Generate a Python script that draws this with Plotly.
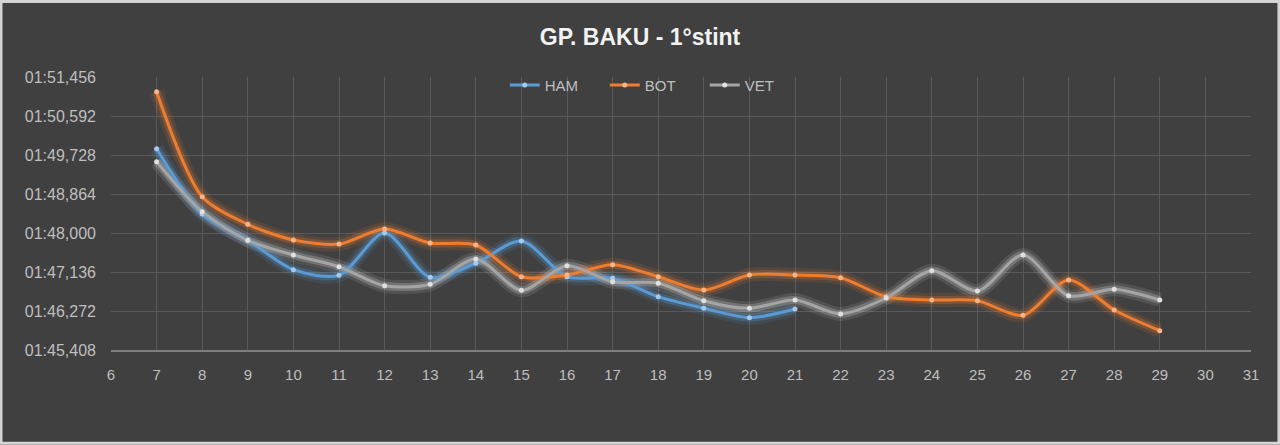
import plotly.graph_objects as go

laps_ham = list(range(7, 22))
laps_all = list(range(7, 30))

# lap times in seconds
ham = [109.868, 108.421, 107.838, 107.187, 107.063, 108.000, 107.019, 107.329,
       107.823, 107.032, 106.996, 106.589, 106.332, 106.124, 106.316]
bot = [111.130, 108.804, 108.193, 107.845, 107.756, 108.089, 107.778, 107.734,
       107.032, 107.070, 107.298, 107.032, 106.737, 107.070, 107.070, 107.010,
       106.589, 106.516, 106.500, 106.177, 106.959, 106.294, 105.836]
vet = [109.580, 108.472, 107.838, 107.513, 107.253, 106.832, 106.863, 107.424,
       106.731, 107.276, 106.921, 106.886, 106.500, 106.332, 106.516, 106.206,
       106.560, 107.165, 106.715, 107.513, 106.611, 106.753, 106.516]

y_tickvals = [105.408, 106.272, 107.136, 108.000, 108.864, 109.728, 110.592, 111.456]
y_ticktext = ['01:45,408', '01:46,272', '01:47,136', '01:48,000',
              '01:48,864', '01:49,728', '01:50,592', '01:51,456']

series = [
    ('HAM', laps_ham, ham, '#5b9bd5', (91, 155, 213), '#a6c9ea'),
    ('BOT', laps_all, bot, '#ed7d31', (237, 125, 49), '#f7b489'),
    ('VET', laps_all, vet, '#a5a5a5', (215, 215, 215), '#e0e0e0'),
]

fig = go.Figure()

# glow underlay (two soft layers)
for w, a in [(14, 0.12), (8, 0.25)]:
    for name, x, y, col, rgb, mk in series:
        fig.add_trace(go.Scatter(
            x=x, y=y, mode='lines',
            line=dict(color='rgba(%d,%d,%d,%.2f)' % (rgb + (a,)), width=w,
                      shape='spline', smoothing=0.8),
            showlegend=False, hoverinfo='skip'
        ))

for name, x, y, col, rgb, mk in series:
    fig.add_trace(go.Scatter(
        x=x, y=y, name=name, mode='lines+markers',
        line=dict(color=col, width=3, shape='spline', smoothing=0.8),
        marker=dict(color=mk, size=5)
    ))

fig.add_shape(type='rect', xref='paper', yref='paper',
              x0=-0.0965, x1=1.0245, y0=-0.342, y1=1.277,
              line=dict(color='#d4d4d4', width=3), layer='below')

fig.update_layout(
    width=1280,
    height=445,
    paper_bgcolor='#404040',
    plot_bgcolor='#404040',
    font=dict(family='Liberation Sans', color='#bfbfbf', size=15),
    title=dict(text='<b>GP. BAKU - 1°stint</b>', x=0.5, xanchor='center', y=0.935,
               font=dict(size=23, color='#f2f2f2')),
    margin=dict(l=111, r=29, t=77, b=95),
    legend=dict(orientation='h', x=0.477, xanchor='center', y=1.03, yanchor='top',
                bgcolor='rgba(0,0,0,0)', font=dict(size=15, color='#bfbfbf'),
                entrywidth=55),
    xaxis=dict(range=[6, 31], dtick=1, tick0=6, showgrid=True, gridcolor='#5a5a5a',
               showline=True, linecolor='#7f7f7f', linewidth=2, zeroline=False,
               ticks='', ticklabelstandoff=10),
    yaxis=dict(range=[105.408, 111.456], tickvals=y_tickvals, ticktext=y_ticktext,
               showgrid=True, gridcolor='#5a5a5a', zeroline=False, ticks='',
               ticklabelstandoff=14, tickfont=dict(size=16)),
)

fig.write_html("out.html", config={'displayModeBar': False},
               post_script="document.body.style.margin='0';")
